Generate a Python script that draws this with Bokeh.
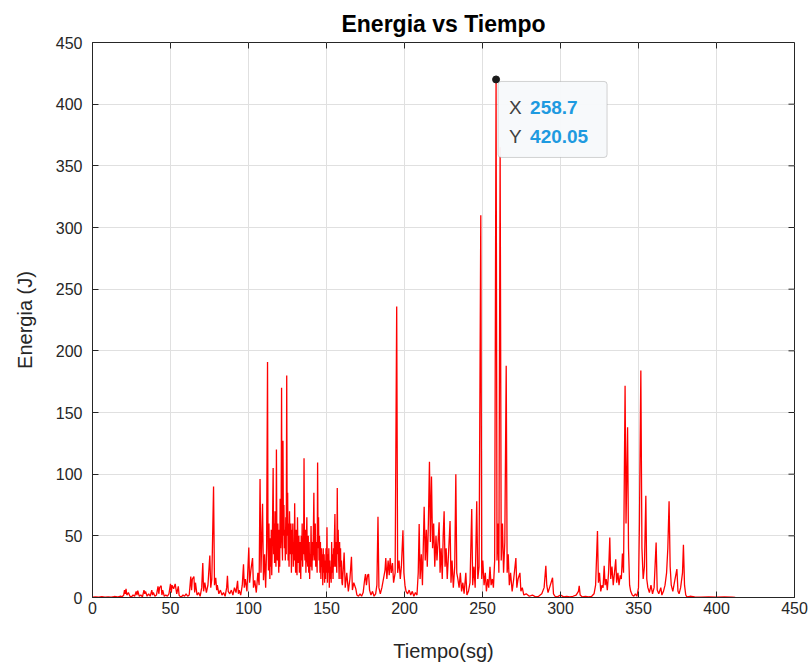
from bokeh.plotting import figure
from bokeh.models import FixedTicker, Range1d, BoxAnnotation, Label
from bokeh.embed import file_html
from bokeh.resources import INLINE

# ---- data ----
# part A: 0 .. 112.2 s
tiempo_a = [
    0, 2, 4, 6, 8, 10, 12, 14, 16, 18, 19,
    20, 20.5, 21, 21.5, 22, 23, 24, 25, 26, 27, 28, 28.5, 29, 30, 31, 32, 33, 33.5, 34, 35, 36, 37, 38, 38.5, 39,
    40, 41, 42, 42.5, 43, 44, 44.5, 45, 46, 47, 48, 49, 50, 50.5, 51, 52, 53, 54, 55, 55.5, 56, 57, 58, 59,
    60, 61, 62, 63, 63.5, 64, 65, 65.5, 66, 67, 68, 69, 70, 70.7, 71.2, 72, 73, 74, 75.2, 75.8, 76.5, 77.6,
    78.2, 79, 79.6, 80, 81, 82, 83, 84, 85, 86, 86.5, 87, 88, 89, 90, 91, 92, 93, 93.5, 94, 95, 96, 96.8,
    97.3, 98, 99, 100.2, 100.7, 101.5, 102.6, 103.2, 104, 105, 106, 106.8, 107.4, 108, 109, 109.6, 110.3,
    111, 111.6, 112.2,
]
energia_a = [
    0.3, 0.5, 0.2, 0.6, 0.3, 0.5, 0.2, 0.8, 0.4, 1.2, 0.5,
    2, 6, 3, 7, 2, 4, 1, 0.5, 2, 1, 5, 2, 5.5, 1, 2, 0.5, 6, 3, 5, 1, 3, 1, 6, 2, 4,
    1, 2, 9, 3, 8, 9.5, 2, 6, 1, 2, 1, 3, 11, 4, 10, 7, 11, 3, 9, 2, 1, 0.5, 2, 1,
    3, 1, 2, 17, 6, 15, 17, 4, 12, 2, 4, 1, 8, 28, 5, 12, 4, 10, 34, 8, 15, 90,
    10, 16, 6, 10, 3, 6, 2, 4, 1, 8, 17.6, 5, 3, 6, 2, 8, 4, 13.5, 3, 6, 2, 10, 27,
    8, 15, 5, 40.5, 12, 22, 32, 8, 14, 4, 20, 10, 96, 20, 76, 14, 35,
    8, 40, 191,
]
# part B: dense burst, sampled every 0.3 s from 112.5 s
energia_b = [
    45, 22, 60, 30, 15, 48, 25, 55, 18, 40,
    70, 105, 35, 60, 28, 70, 40, 25, 120, 45,
    30, 60, 35, 20, 55, 25, 80, 40, 65, 170,
    45, 30, 127, 50, 75, 40, 55, 30, 65, 35,
    180, 50, 85, 30, 60, 25, 70, 45, 35, 60,
    20, 55, 35, 60, 25, 45, 30, 76.5, 40, 20,
    55, 30, 18, 65, 35, 28, 50, 20, 45, 30,
    15, 50, 30, 60, 25, 45, 35, 113, 40, 30,
    55, 20, 45, 65, 30, 25, 50, 20, 45, 15,
    35, 25, 58, 30, 22, 45, 30, 55, 85, 35,
    30, 60, 25, 45, 35, 20, 109.5, 40, 65, 30,
    50, 20, 45, 15, 40, 25, 35, 10, 40, 20,
    35, 12, 30, 15, 40, 20, 57, 12, 35, 20,
    40, 8, 30, 15, 25, 12, 45, 20, 35, 15,
    40, 25, 50, 67.6, 25, 45, 30, 20, 88.7, 35,
    55, 30, 15, 45, 25, 40, 15, 30, 12,
]
tiempo_b = [round(112.5 + 0.3 * i, 1) for i in range(len(energia_b))]
# part C: 160.2 s .. end
tiempo_c = [
    160.2, 161.3, 162, 163, 164, 165, 166, 166.6, 167.5, 168.8, 169.5, 170.5, 171.5, 172.5, 173.5, 174.5,
    175, 175.6, 176.3, 177, 177.6, 178.5, 179.5, 180.5, 181.5, 182.3, 183, 183.6, 184.5, 185.5, 186.5,
    187.5, 188, 188.7, 189.5, 190.2, 190.8, 191.5, 192.3, 193, 194, 195, 195.6, 196.5, 197.3, 198, 199,
    199.6, 200.3, 201, 202, 203, 204, 205, 206, 207, 208, 208.8, 209.4, 210, 210.8, 211.5, 212.6, 213.3,
    214, 214.6, 215.3, 216, 216.6, 217.3, 218, 218.7, 219.4, 220.2, 220.8, 221.5, 222.2, 222.8, 223.5,
    224.2, 224.8, 225.4, 226, 226.7, 227.4, 228.2, 229.2, 229.8, 230.5, 231.3, 232.2, 232.9, 233.5, 234.2,
    235, 235.8, 236.6, 237.4, 238.2, 239.3, 240, 241, 242, 243.1, 243.7, 244.5, 245.3, 246.3, 247, 247.8,
    248.9, 249.5, 250.2, 251, 251.8, 252.5, 253.3, 254, 254.8, 255.5, 256.3, 257, 257.8, 258.7, 259.3,
    259.9, 260.5, 261.3, 262, 262.8, 263.5, 264.3, 265.2, 265.8, 266.5, 267.2, 268, 269, 270, 271.4, 272,
    272.8, 274, 274.6, 275.5, 276.5, 278, 280, 282, 284, 286, 288, 289.5, 290.6, 291.2, 292, 293, 294.9,
    295.5, 296.5, 298, 300, 302, 304, 306, 308, 310, 311.5, 312, 312.6, 314, 316, 318, 320, 321.5, 322.5,
    323.7, 324.3, 325, 325.8, 326.6, 327.3, 328, 328.6, 329.3, 330, 330.8, 331.6, 332.2, 333, 333.8,
    334.6, 335.4, 336, 336.8, 337.5, 338.3, 339, 339.7, 340.4, 341.4, 342, 343, 343.6, 344.3, 345, 346,
    347, 348, 349, 350, 350.6, 351.5, 352.2, 353, 353.8, 354.7, 355.3, 356, 357, 358, 359, 360, 361.3,
    362, 363, 364.3, 365, 366, 367, 368, 368.8, 369.6, 370.3, 371, 372, 373, 374.6, 375.3, 376, 377,
    378.2, 378.8, 379.5, 380.3, 381, 383, 386, 390, 395, 400, 405, 410, 412,
]
energia_c = [
    10, 36.5, 8, 20, 5, 15, 33, 6, 12, 7, 2, 1, 3, 1, 4, 15,
    19, 10, 18, 19, 6, 2, 5, 1, 3, 10, 65.4, 8, 3, 8, 15,
    22, 32, 15, 30, 18, 32, 20, 28, 12, 20, 236, 20, 30, 15, 25, 54.6,
    20, 10, 5, 3, 6, 2, 5, 1, 4, 2, 20, 59.5, 15, 35, 10, 73.5, 30,
    55, 25, 60, 110, 45, 98, 40, 60, 25, 50, 30, 45, 61, 20, 40,
    15, 50, 70, 25, 40, 15, 35, 62, 12, 30, 8, 25, 100, 20, 15,
    8, 20, 5, 12, 3, 20, 2, 5, 12, 71.7, 10, 25, 8, 78, 15, 25,
    310, 15, 30, 10, 20, 5, 15, 8, 25, 10, 15, 8, 30, 420.05, 30,
    60, 20, 365, 30, 60, 20, 45, 188, 20, 35, 10, 20, 5, 15, 32, 8,
    15, 20, 5, 8, 2, 3, 1, 2, 0.5, 1, 3, 8, 25.7, 10, 4, 8, 16,
    3, 1, 0.5, 2, 0.5, 1, 0.5, 1, 2, 5, 9.5, 2, 0.5, 1, 0.5, 1, 3, 10,
    54, 12, 20, 5, 10, 8, 25.7, 10, 15, 6, 20, 48.6, 15, 25, 10,
    20, 31, 12, 20, 10, 18, 15, 35.7, 20, 171.6, 60, 138, 40, 10, 5, 2,
    1, 3, 1, 8, 60, 184, 40, 15, 25, 82.5, 15, 8, 4, 10, 3, 8, 44.6,
    6, 3, 8, 2, 5, 10, 20, 40, 78, 25, 10, 5, 12, 23, 5, 3, 8,
    20, 42.7, 10, 2, 0.5, 1, 0.5, 0.3, 0.5, 0.2, 0.4, 0.2, 0,
]
tiempo = tiempo_a + tiempo_b + tiempo_c
energia = energia_a + energia_b + energia_c

ticks = [0, 50, 100, 150, 200, 250, 300, 350, 400, 450]
titulo = "Energia vs Tiempo"
etiqueta_x = "Tiempo(sg)"
etiqueta_y = "Energia (J)"

FONT = "Liberation Sans"
TXT = "#262626"
XMIN, XMAX, YMIN, YMAX = 0, 450, 0, 450
W, H = 812, 665
BL, BR, BT, BB = 92, 18, 42, 68
sx = (W - BL - BR) / (XMAX - XMIN)
sy = (H - BT - BB) / (YMAX - YMIN)

p = figure(width=W, height=H, output_backend="svg", toolbar_location=None,
           x_range=Range1d(XMIN, XMAX), y_range=Range1d(YMIN, YMAX),
           min_border_left=BL, min_border_right=BR, min_border_top=BT, min_border_bottom=BB,
           title=titulo)
p.title.align = "center"
p.title.text_font = FONT
p.title.text_font_size = "23px"
p.title.text_font_style = "bold"
p.title.text_color = "#000000"
p.title.offset = 0
p.title.standoff = 12

p.background_fill_color = "white"
p.border_fill_color = "white"
p.outline_line_color = TXT
p.outline_line_width = 1

xax = p.xaxis[0]
yax = p.yaxis[0]
for ax in (xax, yax):
    ax.ticker = FixedTicker(ticks=ticks)
    ax.major_tick_in = 6
    ax.major_tick_out = 0
    ax.minor_tick_in = 0
    ax.minor_tick_out = 0
    ax.axis_line_color = TXT
    ax.major_tick_line_color = TXT
    ax.major_label_text_font = FONT
    ax.major_label_text_font_size = "16px"
    ax.major_label_text_color = TXT
    ax.axis_label_text_font = FONT
    ax.axis_label_text_font_size = "20px"
    ax.axis_label_text_font_style = "normal"
    ax.axis_label_text_color = TXT

xax.axis_label = etiqueta_x
yax.axis_label = etiqueta_y
xax.major_label_standoff = 4
xax.axis_label_standoff = 23
yax.major_label_standoff = 10
yax.axis_label_standoff = 17

p.xgrid.ticker = FixedTicker(ticks=ticks)
p.ygrid.ticker = FixedTicker(ticks=ticks)
p.grid.grid_line_color = "#e0e0e0"
p.grid.grid_line_width = 1

# inward ticks on the top and right edges (boxed axes)
tl = 6
p.segment(x0=ticks, y0=[YMAX] * len(ticks), x1=ticks, y1=[YMAX - tl / sy] * len(ticks),
          line_color=TXT, line_width=1)
p.segment(x0=[XMAX] * len(ticks), y0=ticks, x1=[XMAX - tl / sx] * len(ticks), y1=ticks,
          line_color=TXT, line_width=1)

p.line(tiempo, energia, line_color="#ff0000", line_width=1.3)

# datatip on the maximum
imax = max(range(len(energia)), key=lambda i: energia[i])
tp, ep = tiempo[imax], energia[imax]
p.add_layout(BoxAnnotation(left=tp + 2 / sx, right=tp + 111 / sx,
                           top=ep - 2 / sy, bottom=ep - 78 / sy,
                           fill_color="#f7f9fb", fill_alpha=0.95,
                           line_color="#6e6e6e", line_width=1, border_radius=3))
p.scatter([tp], [ep], size=7, color="#1a1a1a")
for lab, val, dy in (("X", f"{tp:g}", -28), ("Y", f"{ep:.2f}", -57)):
    p.add_layout(Label(x=tp, y=ep, x_offset=13, y_offset=dy, text=lab,
                       text_font=FONT, text_font_size="19px", text_color="#404040",
                       text_baseline="middle"))
    p.add_layout(Label(x=tp, y=ep, x_offset=34, y_offset=dy, text=val,
                       text_font=FONT, text_font_size="19px", text_font_style="bold",
                       text_color="#1e9ae0", text_baseline="middle"))

open("out.html", "w").write(file_html(p, INLINE))
